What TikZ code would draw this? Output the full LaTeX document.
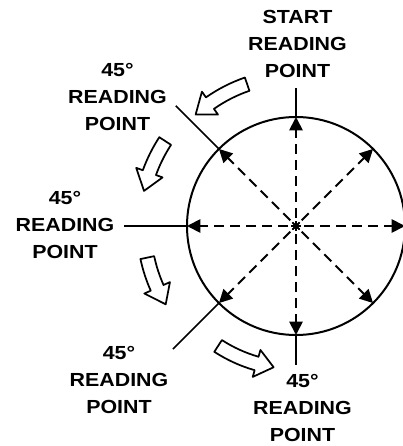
\documentclass[tikz,border=0pt]{standalone}
\usepackage{fontspec}
\setmainfont{Liberation Sans}[FakeStretch=1.13]
\usetikzlibrary{arrows.meta,calc}
\tikzset{
  rim/.style={
    line width=1.5pt
  },
  spoke/.style={
    line width=1.4pt,
    dash pattern=on 7.5pt off 4.5pt,
    dash phase=-6pt,
    -{Triangle[length=10pt,width=10pt]}
  },
  pointer/.style={
    line width=1.3pt
  },
  reading/.style={
    align=center,
    inner sep=0pt,
    font=\fontsize{14.2}{19.9}\selectfont\bfseries
  },
  hollow/.style={
    line width=1.3pt,
    line join=round,
    fill=white
  }
}
% hollow turning arrow: start angle, end angle, radius
\newcommand\turnarrow[3]{%
  \draw[hollow] (#1:{#3-7}) arc[start angle=#1, end angle={#2-7}, radius={#3-7}]
    -- ({#2-7}:{#3-14}) -- (#2:#3) -- ({#2-7}:{#3+14}) -- ({#2-7}:{#3+7})
    arc[start angle={#2-7}, end angle=#1, radius={#3+7}] -- cycle;
}

\begin{document}
\begin{tikzpicture}[x=0.75pt,y=0.75pt]
  \useasboundingbox (-296,-220) rectangle (107,226);
  \coordinate (o) at (0,0);
  \draw[rim] (o) circle (109);
  \foreach \a in {0,45,...,315} {
    \coordinate (c\a) at (\a:109);
    \draw[spoke] (o) -- (c\a);
    \draw[line width=1.3pt] (\a:-5) -- (\a:5);
  }
  % pointers to the reading points
  \coordinate (e90) at (90:138);
  \coordinate (e135) at (135:170);
  \coordinate (e180) at (180:172);
  \coordinate (e225) at (225:174);
  \coordinate (e270) at (270:139);
  \foreach \a in {90,135,180,225,270}
    \draw[pointer] (c\a) -- (e\a);
  \node[reading] (start) at (1.5,182) {START\\READING\\POINT};
  \node[reading] (p135) at (-178.5,129) {45°\\READING\\POINT};
  \node[reading] (p180) at (-231,1) {45°\\READING\\POINT};
  \node[reading] (p225) at (-177,-154) {45°\\READING\\POINT};
  \node[reading] (p270) at (6.5,-182) {45°\\READING\\POINT};
  % direction of rotation
  \turnarrow{109}{132}{150}
  \turnarrow{147}{167}{156}
  \turnarrow{192}{211}{152}
  \turnarrow{237}{261}{143}
\end{tikzpicture}
\end{document}
